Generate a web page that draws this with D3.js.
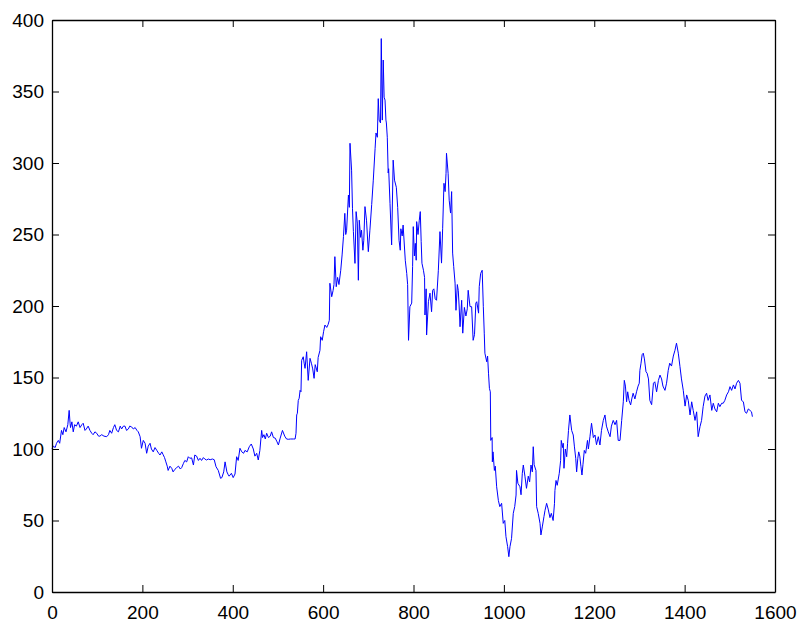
<!DOCTYPE html>
<html>
<head>
<meta charset="utf-8">
<script src="https://cdn.jsdelivr.net/npm/d3@7"></script>
<style>
  html, body { margin: 0; padding: 0; background: #fff; }
  svg text { font-family: "Liberation Sans", Arial, Helvetica, sans-serif; font-size: 19px; fill: #000; }
</style>
</head>
<body>
<svg id="chart" width="803" height="624"></svg>
<script>
// Series: sample index and value
const days = [
  0,3,7,10,14,17,21,24,27,31,35,38,40,41,44,47,50,54,58,62,66,69,73,76,80,84,88,91,95,99,
  103,106,110,115,121,125,128,132,136,139,143,147,151,154,158,161.5,165,169,172,176,180,184,188,191,195,198,202,206,209.5,213,
  217,220,224,228,232,236,239,243,246,249,252,255,257,261,265,268,272,276,280,284,287,291,294,298,301.6,305,309,313,316,320,
  324,327.5,331,335,338,342,346,350,355,359,363,368,373,376,380,383,387,390,392,397,401,405,408.6,412,416,420,424,427,432,436.6,
  441,445.5,449,453,456.5,460,464,466,469,472,475,479,483,486,490,494,498,501,505,510,515,519,523,528,534,538,540,541.5,543,545,
  547,549,551,552.5,556,558,560,563.5,567,571,574,577,580,582.5,587,589,593,594.5,598,601,604,608,611,613.7,615,619,622,624,626,629,
  632,635,639,642,645,648,650,652,656,658,659.5,663,665,667,670.5,673,675.7,678,680,683,685,688,690,692.6,696,700,703.5,707.5,711,715,
  717,720,722,724,727,728.7,731,733,735,737,739,740,742,744,745,748,751.6,755,758,762,765,768,770.7,772,775,777,781.8,785,787,789,
  792,796,798,799.5,802,804,806,807,810,812.8,815,817,818.7,822,824.5,825.4,828,829,833,836.5,840,842.4,845,848,851,855,858.6,862,864.5,867.4,
  870,872,873,876.6,879,882,884.4,886.6,889,892,894,897,899,901,903,906.6,909,912.6,916,919,921,925,928.7,932,935,938,940,944,945.5,948.6,
  952,954.5,956.6,958,962,964,966,968,970,971,974,974.5,976,979,981,984,987.8,991,995,998.6,1002,1004.6,1008.3,1011,1013.5,1017,1020.8,1024,1027,1028,
  1031,1035.6,1038,1040.8,1043,1046.6,1050,1054,1057,1060,1063,1065,1067,1071,1072.5,1076,1080,1082,1085,1088.7,1091,1094.6,1098,1102,1105,1109,1112,1113,1115.4,1118,
  1122.6,1125.6,1127,1130,1131.4,1133,1136,1139,1141,1143,1146,1150,1153.5,1156,1159,1161,1163.6,1165.6,1168,1170.6,1172.8,1175,1178,1181,1185,1187,1190.5,1194,1198,1201.6,
  1205,1209,1212.6,1216,1220,1223.7,1227,1231,1235,1238,1242,1246,1249.5,1253,1257,1260.7,1264.3,1266.5,1269,1271.6,1274,1277,1280.5,1283,1286,1290,1293.6,1297,1299.6,1301,
  1303.5,1306,1308.5,1311,1314.5,1317,1320,1323,1327,1331,1334,1338,1342,1345.5,1349,1352,1356.5,1360,1363.7,1367,1371,1375,1378.6,1382,1386,1389.7,1393,1397,1401,1404.5,
  1408,1412,1415.6,1419,1423,1426.6,1430,1434,1437.5,1441,1445,1448.6,1452,1456,1460,1463.4,1467,1471,1474.6,1478,1482,1485.5,1489,1493,1497,1500.4,1504,1508,1511.5,1515,
  1519,1522.5,1526,1530,1533.6,1537,1541,1544.6,1548,1550
];
const price = [
  100,102,101,104,106,104,113,110,115,112,117,127,118,115,119,112,117,116,119,115,117,118,113,114,116,113,111,110,112,111,
  109,109,110,109,108.6,110,113,111,115,117,113,112,116,114,116,116,113,114,116,115.5,114,115,113,112,108.6,100.5,106,104,97,102,
  104,100,98,101,99,97,95.8,98,96,94,91,88,85,88,86.5,84,85.8,87,88,86,87,90,92,91,94.6,93.5,93.8,88.8,95.8,95,
  92,93.5,92,94,93,92.3,93,92.5,93,92.5,87.6,85,79.5,80,84,91,84,82,81,83,80,82.5,94.6,92,100.5,98,97,99,98,101.6,
  103.5,100,95,97,92.3,99,113,108,110,107,111,108,109,112,108,107.6,105,102.8,107.6,113,109,107,106.8,107,107,107,111,123.8,125,134,
  135.5,141,140,162,164.5,160,156.4,168,148,163.4,160,156,149.4,159,154,164,169,178.5,176,182,186.7,185,187,190,215.9,206.5,210.8,215,234.5,213.5,
  220,215,225,235.7,248.5,264.8,250,253,277.6,269,313.8,295,268,252,229.8,266,258,218,260,248,253,239,246,269.5,260,238,253,271,288,310,
  321,318,345,330,328,387,330,372,346,344,330,328,318,293,296,271.8,242.7,302,288,283,269,246,239,254,249,256.6,232,222.8,215,176,
  199.5,202,227.5,255.5,235,243.8,232,259,250,260,266,245,229.9,225,220,193.7,212,179.7,203,209,196,211,212,205,204,225,252,230,254,285.8,
  280,292.8,306.8,292.8,274,265,280,237,227.5,216,197,215,211,200,185.5,204,181,199,193,198,211,199.6,199.5,176,180,202,203,195,213.5,222.8,
  225,199.5,181,167,161,165,153,142.4,140,106,108,91,98,85,88,73.6,64,59.7,62,48,50,38.7,31.7,24.7,31.7,37.5,55,59.7,67.8,85,
  76,73.6,68,83,88.8,81,72.5,81,77,88.8,84,101.6,89,85,59.7,55,48,39.9,45.5,52.7,57,62,58,52,55,50,62,71,78,74.6,
  83,92,106,101,104,86.5,100,94.6,104,113,123.8,113,109.8,102,93.5,84,93.5,98,95,87.6,81.8,89,99,97,106,100,108.6,118,108,109.8,
  103,108.6,102.8,113,120,123.8,116,112,108.6,116,120,117,120,106,106,120,133,148,144,133,140,134,130.8,135,139,135,140,144,146,155,
  160,166,167,163,154,153,149,134,131,146,147,140,148,151.7,149,144,141,146,155,160,158,165,169,174,167,157.6,149,141,130,137.8,
  134,123.8,133,127,120,126,108.6,115.6,120,129.6,137,139,134,137.8,127,132,128,126,132,129.6,132,132,134,137.8,140,143.6,141,144.8,142,146,
  148,146,134,133,126,125,128,127,126,122.6
];
const xTicks = [0, 200, 400, 600, 800, 1000, 1200, 1400, 1600];
const yTicks = [0, 50, 100, 150, 200, 250, 300, 350, 400];

const svg = d3.select("#chart");
const plotLeft = 52, plotRight = 775, plotTop = 20, plotBottom = 592;
const tickLen = 7;

const x = d3.scaleLinear().domain([0, 1600]).range([plotLeft, plotRight]);
const y = d3.scaleLinear().domain([0, 400]).range([plotBottom, plotTop]);

const series = days.map((d, i) => [d, price[i]]);

// data line
svg.append("path")
  .datum(series)
  .attr("fill", "none")
  .attr("stroke", "#0000ff")
  .attr("stroke-width", 1)
  .attr("stroke-linejoin", "round")
  .attr("d", d3.line().x(d => x(d[0])).y(d => y(d[1])));

// axes with inward ticks on all four sides (boxed plot)
const fmt = d3.format("d");
const axB = svg.append("g").attr("transform", `translate(0,${plotBottom})`)
  .call(d3.axisBottom(x).tickValues(xTicks).tickFormat(fmt).tickSizeInner(-tickLen).tickSizeOuter(0).tickPadding(14));
const axT = svg.append("g").attr("transform", `translate(0,${plotTop})`)
  .call(d3.axisTop(x).tickValues(xTicks).tickFormat("").tickSizeInner(-tickLen).tickSizeOuter(0));
const axL = svg.append("g").attr("transform", `translate(${plotLeft},0)`)
  .call(d3.axisLeft(y).tickValues(yTicks).tickFormat(fmt).tickSizeInner(-tickLen).tickSizeOuter(0).tickPadding(8));
const axR = svg.append("g").attr("transform", `translate(${plotRight},0)`)
  .call(d3.axisRight(y).tickValues(yTicks).tickFormat("").tickSizeInner(-tickLen).tickSizeOuter(0));

[axB, axT, axL, axR].forEach(g => {
  g.select(".domain").attr("stroke", "#000").attr("stroke-width", 1.3);
  g.selectAll(".tick line").attr("stroke", "#000").attr("stroke-width", 1);
  g.selectAll("text").attr("font-size", 19).attr("font-family", "'Liberation Sans', Arial, sans-serif").attr("fill", "#000");
});
</script>
</body>
</html>
